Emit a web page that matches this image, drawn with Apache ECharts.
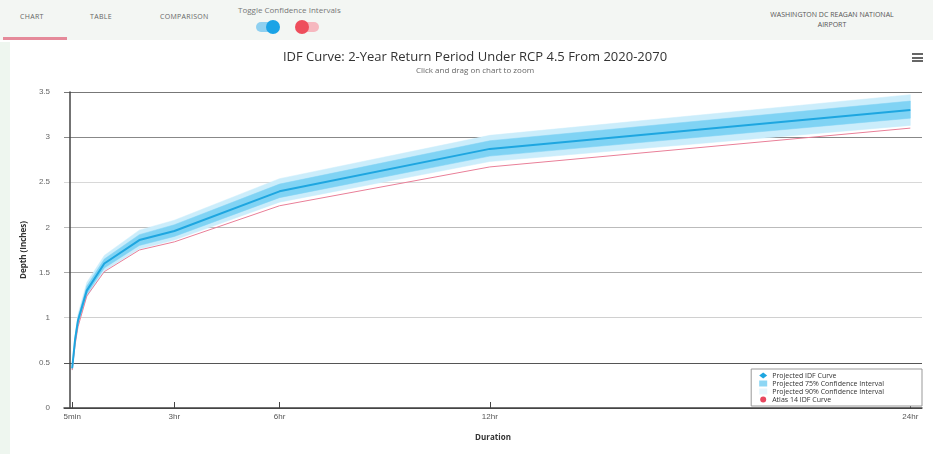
<!DOCTYPE html>
<html>
<head>
<meta charset="utf-8">
<script src="https://cdn.jsdelivr.net/npm/echarts@6/dist/echarts.min.js"></script>
<style>
  html,body{margin:0;padding:0;width:933px;height:454px;overflow:hidden;background:#fff;font-family:"Open Sans","DejaVu Sans",sans-serif;}
  #bar{position:absolute;left:0;top:0;width:933px;height:40px;background:#f3f6f3;}
  .tab{position:absolute;top:12px;font-size:7px;color:#666;letter-spacing:0.3px;}
  #uline{position:absolute;left:3px;top:37px;width:64px;height:3px;background:#e58a9a;}
  #toggleTitle{position:absolute;left:238px;top:4px;font-size:8px;color:#777;}
  .sw{position:absolute;top:22px;width:22px;height:10px;border-radius:5px;}
  .knob{position:absolute;top:-2px;width:14px;height:14px;border-radius:7px;}
  #station{position:absolute;left:752px;top:10px;width:160px;text-align:center;font-size:7px;line-height:10px;color:#555;}
  #strip{position:absolute;left:0;top:42px;width:10px;height:412px;background:#eef6ef;}
  #chart{position:absolute;left:0;top:42px;width:933px;height:412px;}
  #menu{position:absolute;left:912px;top:53px;width:11px;}
  #menu div{height:2px;background:#666;margin-bottom:1.5px;}
</style>
</head>
<body>
<div id="bar">
  <div class="tab" style="left:20px;">CHART</div>
  <div class="tab" style="left:90px;">TABLE</div>
  <div class="tab" style="left:160px;">COMPARISON</div>
  <div id="uline"></div>
  <div id="toggleTitle">Toggle Confidence Intervals</div>
  <div class="sw" style="left:256px;background:#8fd0f0;"><div class="knob" style="left:10px;background:#1aa3e6;"></div></div>
  <div class="sw" style="left:297px;background:#f6b8bf;"><div class="knob" style="left:-2px;background:#ee4e5c;"></div></div>
  <div id="station">WASHINGTON DC REAGAN NATIONAL<br>AIRPORT</div>
</div>
<div id="strip"></div>
<div id="chart"></div>
<div id="menu"><div></div><div></div><div></div></div>
<script>
// Durations in minutes
var durations = [5, 10, 15, 30, 60, 120, 180, 360, 720, 1440];
var projected = [0.44, 0.76, 0.97, 1.30, 1.60, 1.86, 1.96, 2.40, 2.87, 3.30];
var lo75      = [0.43, 0.73, 0.93, 1.26, 1.55, 1.80, 1.90, 2.33, 2.79, 3.21];
var hi75      = [0.46, 0.79, 1.01, 1.35, 1.65, 1.92, 2.03, 2.48, 2.96, 3.40];
var lo90      = [0.42, 0.71, 0.91, 1.23, 1.52, 1.76, 1.86, 2.28, 2.73, 3.13];
var hi90      = [0.47, 0.81, 1.04, 1.39, 1.69, 1.97, 2.08, 2.54, 3.02, 3.47];
var atlas14   = [0.42, 0.70, 0.90, 1.24, 1.51, 1.75, 1.84, 2.24, 2.67, 3.10];
var tickValues = [5, 180, 360, 720, 1440];
var tickLabels = {5: '5min', 180: '3hr', 360: '6hr', 720: '12hr', 1440: '24hr'};

function pairs(ys) { return durations.map(function (d, i) { return [d, ys[i]]; }); }
function bandData(lo, hi) { return durations.map(function (d, i) { return [d, lo[i], hi[i]]; }); }

function bandRenderer(color) {
  return function (params, api) {
    if (params.dataIndex !== 0) return null;
    var data = params.context.bandData;
    var upper = [], lower = [];
    for (var i = 0; i < data.length; i++) {
      upper.push(api.coord([data[i][0], data[i][2]]));
      lower.unshift(api.coord([data[i][0], data[i][1]]));
    }
    return {
      type: 'polygon',
      shape: {points: upper.concat(lower)},
      style: {fill: color, stroke: color, lineWidth: 0.5}
    };
  };
}

function bandSeries(name, lo, hi, color, legendColor, z) {
  var d = bandData(lo, hi);
  var r = bandRenderer(color);
  return {
    name: name, type: 'custom', z: z, silent: true,
    data: d,
    encode: {x: 0, y: [1, 2]},
    itemStyle: {color: legendColor},
    renderItem: function (params, api) { params.context.bandData = d; return r(params, api); }
  };
}

var chart = echarts.init(document.getElementById('chart'));
chart.setOption({
  animation: false,
  title: {
    text: 'IDF Curve: 2-Year Return Period Under RCP 4.5 From 2020-2070',
    subtext: 'Click and drag on chart to zoom',
    left: 470, textAlign: 'center', top: 4, itemGap: 3,
    textStyle: {fontSize: 13, fontWeight: 'normal', color: '#333', fontFamily: 'Open Sans'},
    subtextStyle: {fontSize: 8, color: '#666', fontFamily: 'Open Sans'}
  },
  grid: {left: 64, right: 11, top: 50, bottom: 46},
  legend: {
    orient: 'vertical', right: 11, bottom: 48,
    backgroundColor: '#fff', borderColor: '#999', borderWidth: 1,
    padding: [3, 38, 3, 8], itemGap: 1, itemWidth: 8, itemHeight: 6,
    textStyle: {fontSize: 7, color: '#333', fontFamily: 'Open Sans'},
    data: [
      {name: 'Projected IDF Curve', icon: 'diamond'},
      {name: 'Projected 75% Confidence Interval', icon: 'rect'},
      {name: 'Projected 90% Confidence Interval', icon: 'rect'},
      {name: 'Atlas 14 IDF Curve', icon: 'circle'}
    ]
  },
  xAxis: {
    type: 'value', min: -9, max: 1460,
    name: 'Duration', nameLocation: 'middle', nameGap: 26,
    nameTextStyle: {fontSize: 8, fontWeight: 'bold', color: '#333', fontFamily: 'Open Sans'},
    axisLine: {lineStyle: {color: '#444', width: 1.5}},
    axisTick: {show: true, customValues: tickValues, length: 6, inside: true, lineStyle: {color: '#444'}},
    axisLabel: {customValues: tickValues, fontSize: 8, color: '#555', margin: 5,
      formatter: function (v) { return tickLabels[v] || ''; }},
    splitLine: {show: false}
  },
  yAxis: {
    type: 'value', min: 0, max: 3.5, interval: 0.5,
    name: 'Depth (Inches)', nameLocation: 'middle', nameGap: 36, nameRotate: 90,
    nameTextStyle: {fontSize: 8, fontWeight: 'bold', color: '#333', fontFamily: 'Open Sans'},
    axisLine: {show: true, lineStyle: {color: '#444', width: 1.5}},
    axisTick: {show: false},
    axisLabel: {fontSize: 8, color: '#666', margin: 14},
    splitLine: {lineStyle: {color: ['#444', '#555', '#d0d0d0', '#aaa', '#bbb', '#d8d8d8', '#888', '#777'], width: 1.2}}
  },
  series: [
    bandSeries('Projected 90% Confidence Interval', lo90, hi90, '#cbedfb', '#e6f5fc', 1),
    bandSeries('Projected 75% Confidence Interval', lo75, hi75, '#80d3f4', '#8dd6f4', 2),
    {name: 'Atlas 14 IDF Curve', type: 'line', data: pairs(atlas14), symbol: 'none',
      lineStyle: {color: '#e97f98', width: 1}, itemStyle: {color: '#e8475f'}, z: 3},
    {name: 'Projected IDF Curve', type: 'line', data: pairs(projected), symbol: 'none',
      lineStyle: {color: '#1ea6e0', width: 2}, itemStyle: {color: '#1ea6e0'}, z: 4}
  ]
});
</script>
</body>
</html>
